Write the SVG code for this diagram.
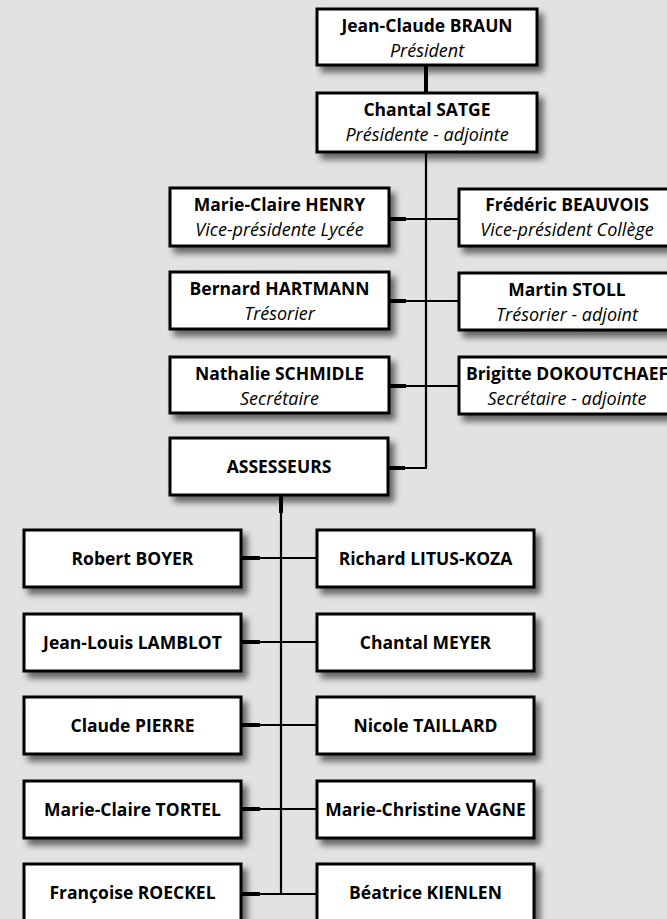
<svg xmlns="http://www.w3.org/2000/svg" width="667" height="919" viewBox="0 0 667 919">
<defs>
<filter id="sh" x="-10%" y="-20%" width="130%" height="160%">
<feDropShadow dx="5" dy="6" stdDeviation="3" flood-color="#000" flood-opacity="0.55"/>
</filter>
<style>
.bx{fill:#fff;stroke:#000;stroke-width:3;filter:url(#sh)}
.n{font-family:"Open Sans","Noto Sans",sans-serif;font-weight:700;font-size:17.5px;text-anchor:middle;fill:#000}
.r{font-family:"Open Sans","Noto Sans",sans-serif;font-style:italic;font-size:18px;text-anchor:middle;fill:#000}
.ln{stroke:#000;stroke-width:2.2;fill:none}
.tk{stroke:#000;stroke-width:4;fill:none}
</style>
</defs>
<rect width="667" height="919" fill="#e1e2e1"/>
<g id="connectors">
<line class="tk" x1="426" y1="66" x2="426" y2="93"/>
<line class="ln" x1="426" y1="152" x2="426" y2="469"/>
<line class="tk" x1="389" y1="219" x2="406" y2="219"/>
<line class="ln" x1="389" y1="219" x2="459" y2="219"/>
<line class="tk" x1="389" y1="301" x2="406" y2="301"/>
<line class="ln" x1="389" y1="301" x2="459" y2="301"/>
<line class="tk" x1="389" y1="386" x2="406" y2="386"/>
<line class="ln" x1="389" y1="386" x2="459" y2="386"/>
<line class="tk" x1="388" y1="468" x2="405" y2="468"/>
<line class="ln" x1="388" y1="468" x2="427" y2="468"/>
<line class="tk" x1="281" y1="495" x2="281" y2="513"/>
<line class="ln" x1="281" y1="495" x2="281" y2="894"/>
<line class="tk" x1="241" y1="558" x2="260" y2="558"/>
<line class="ln" x1="241" y1="558" x2="317" y2="558"/>
<line class="tk" x1="241" y1="642" x2="260" y2="642"/>
<line class="ln" x1="241" y1="642" x2="317" y2="642"/>
<line class="tk" x1="241" y1="725" x2="260" y2="725"/>
<line class="ln" x1="241" y1="725" x2="317" y2="725"/>
<line class="tk" x1="241" y1="809" x2="260" y2="809"/>
<line class="ln" x1="241" y1="809" x2="317" y2="809"/>
<line class="tk" x1="241" y1="894" x2="260" y2="894"/>
<line class="ln" x1="241" y1="894" x2="317" y2="894"/>
</g>
<g id="braun"><rect class="bx" x="317" y="9" width="220" height="56"/><text class="n" x="427" y="32">Jean-Claude BRAUN</text><text class="r" x="427" y="57">Président</text></g>
<g id="satge"><rect class="bx" x="317" y="93" width="220" height="59"/><text class="n" x="427" y="116">Chantal SATGE</text><text class="r" x="427" y="141">Présidente - adjointe</text></g>
<g id="henry"><rect class="bx" x="170" y="188" width="219" height="58"/><text class="n" x="279.5" y="211">Marie-Claire HENRY</text><text class="r" x="279.5" y="236">Vice-présidente Lycée</text></g>
<g id="beauvois"><rect class="bx" x="459" y="189" width="219" height="57"/><text class="n" x="567" y="211">Frédéric BEAUVOIS</text><text class="r" x="567" y="236">Vice-président Collège</text></g>
<g id="hartmann"><rect class="bx" x="170" y="272" width="219" height="57"/><text class="n" x="279.5" y="295">Bernard HARTMANN</text><text class="r" x="279.5" y="320">Trésorier</text></g>
<g id="stoll"><rect class="bx" x="459" y="273" width="219" height="57"/><text class="n" x="567" y="296">Martin STOLL</text><text class="r" x="567" y="321">Trésorier - adjoint</text></g>
<g id="schmidle"><rect class="bx" x="170" y="357" width="219" height="56"/><text class="n" x="279.5" y="380">Nathalie SCHMIDLE</text><text class="r" x="279.5" y="405">Secrétaire</text></g>
<g id="dokoutchaef"><rect class="bx" x="459" y="357" width="219" height="57"/><text class="n" x="567" y="380">Brigitte DOKOUTCHAEF</text><text class="r" x="567" y="405">Secrétaire - adjointe</text></g>
<g id="assesseurs"><rect class="bx" x="170" y="438" width="218" height="57"/><text class="n" x="279" y="473">ASSESSEURS</text></g>
<g id="boyer"><rect class="bx" x="24" y="530" width="217" height="57"/><text class="n" x="132.5" y="565">Robert BOYER</text></g>
<g id="litus"><rect class="bx" x="317" y="530" width="217" height="57"/><text class="n" x="425.5" y="565">Richard LITUS-KOZA</text></g>
<g id="lamblot"><rect class="bx" x="24" y="614" width="217" height="57"/><text class="n" x="132.5" y="649">Jean-Louis LAMBLOT</text></g>
<g id="meyer"><rect class="bx" x="317" y="614" width="217" height="57"/><text class="n" x="425.5" y="649">Chantal MEYER</text></g>
<g id="pierre"><rect class="bx" x="24" y="697" width="217" height="57"/><text class="n" x="132.5" y="732">Claude PIERRE</text></g>
<g id="taillard"><rect class="bx" x="317" y="697" width="217" height="57"/><text class="n" x="425.5" y="732">Nicole TAILLARD</text></g>
<g id="tortel"><rect class="bx" x="24" y="781" width="217" height="57"/><text class="n" x="132.5" y="816">Marie-Claire TORTEL</text></g>
<g id="vagne"><rect class="bx" x="317" y="781" width="217" height="57"/><text class="n" x="425.5" y="816">Marie-Christine VAGNE</text></g>
<g id="roeckel"><rect class="bx" x="24" y="864" width="217" height="57"/><text class="n" x="132.5" y="899">Françoise ROECKEL</text></g>
<g id="kienlen"><rect class="bx" x="317" y="864" width="217" height="57"/><text class="n" x="425.5" y="899">Béatrice KIENLEN</text></g>
</svg>
